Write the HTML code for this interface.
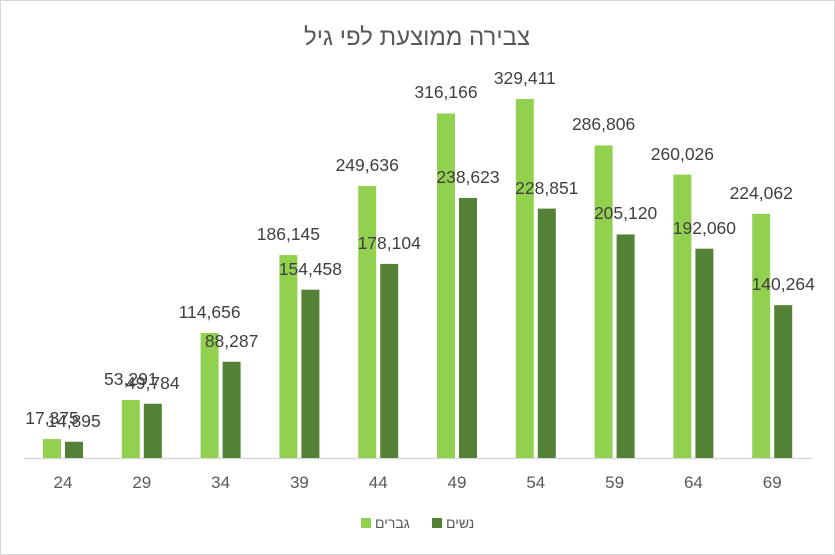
<!DOCTYPE html>
<html><head><meta charset="utf-8"><style>body{margin:0;background:#fff}svg{display:block}text{font-family:"Liberation Sans","DejaVu Sans",sans-serif}</style></head><body>
<svg width="835" height="555" xmlns="http://www.w3.org/2000/svg">
<rect x="0.5" y="0.5" width="834" height="554" fill="#fff" stroke="#D9D9D9"/>
<text x="417" y="45" text-anchor="middle" font-size="24" fill="#595959">צבירה ממוצעת לפי גיל</text>
<line x1="24" y1="458.5" x2="812" y2="458.5" stroke="#D9D9D9" stroke-width="1.5"/>
<g fill="#92D050">
<rect x="43" y="439.06" width="18" height="18.94"/>
<rect x="121.8" y="399.92" width="18" height="58.08"/>
<rect x="200.6" y="333.04" width="18" height="124.96"/>
<rect x="279.4" y="255.13" width="18" height="202.87"/>
<rect x="358.2" y="185.94" width="18" height="272.06"/>
<rect x="437" y="113.44" width="18" height="344.56"/>
<rect x="515.8" y="99" width="18" height="359"/>
<rect x="594.6" y="145.43" width="18" height="312.57"/>
<rect x="673.4" y="174.61" width="18" height="283.39"/>
<rect x="752.2" y="213.81" width="18" height="244.19"/>
</g>
<g fill="#538135">
<rect x="65" y="441.77" width="18" height="16.23"/>
<rect x="143.8" y="403.74" width="18" height="54.26"/>
<rect x="222.6" y="361.78" width="18" height="96.22"/>
<rect x="301.4" y="289.67" width="18" height="168.33"/>
<rect x="380.2" y="263.9" width="18" height="194.1"/>
<rect x="459" y="197.94" width="18" height="260.06"/>
<rect x="537.8" y="208.59" width="18" height="249.41"/>
<rect x="616.6" y="234.45" width="18" height="223.55"/>
<rect x="695.4" y="248.69" width="18" height="209.31"/>
<rect x="774.2" y="305.14" width="18" height="152.86"/>
</g>
<g font-size="17.5" fill="#404040" text-anchor="middle">
<text x="52" y="424">17,375</text>
<text x="130.8" y="385">53,291</text>
<text x="209.6" y="318">114,656</text>
<text x="288.4" y="240">186,145</text>
<text x="367.2" y="171">249,636</text>
<text x="446" y="98">316,166</text>
<text x="524.8" y="84">329,411</text>
<text x="603.6" y="130">286,806</text>
<text x="682.4" y="160">260,026</text>
<text x="761.2" y="199">224,062</text>
<text x="74" y="427">14,895</text>
<text x="152.8" y="389">49,784</text>
<text x="231.6" y="347">88,287</text>
<text x="310.4" y="275">154,458</text>
<text x="389.2" y="249">178,104</text>
<text x="468" y="183">238,623</text>
<text x="546.8" y="194">228,851</text>
<text x="625.6" y="219">205,120</text>
<text x="704.4" y="234">192,060</text>
<text x="783.2" y="290">140,264</text>
</g>
<g font-size="17" fill="#595959" text-anchor="middle">
<text x="63" y="488">24</text>
<text x="141.8" y="488">29</text>
<text x="220.6" y="488">34</text>
<text x="299.4" y="488">39</text>
<text x="378.2" y="488">44</text>
<text x="457" y="488">49</text>
<text x="535.8" y="488">54</text>
<text x="614.6" y="488">59</text>
<text x="693.4" y="488">64</text>
<text x="772.2" y="488">69</text>
</g>
<rect x="361" y="518" width="10" height="10" fill="#92D050"/>
<text x="375" y="528" font-size="14" fill="#595959">גברים</text>
<rect x="432" y="518" width="10" height="10" fill="#538135"/>
<text x="446" y="528" font-size="14" fill="#595959">נשים</text>
</svg></body></html>
